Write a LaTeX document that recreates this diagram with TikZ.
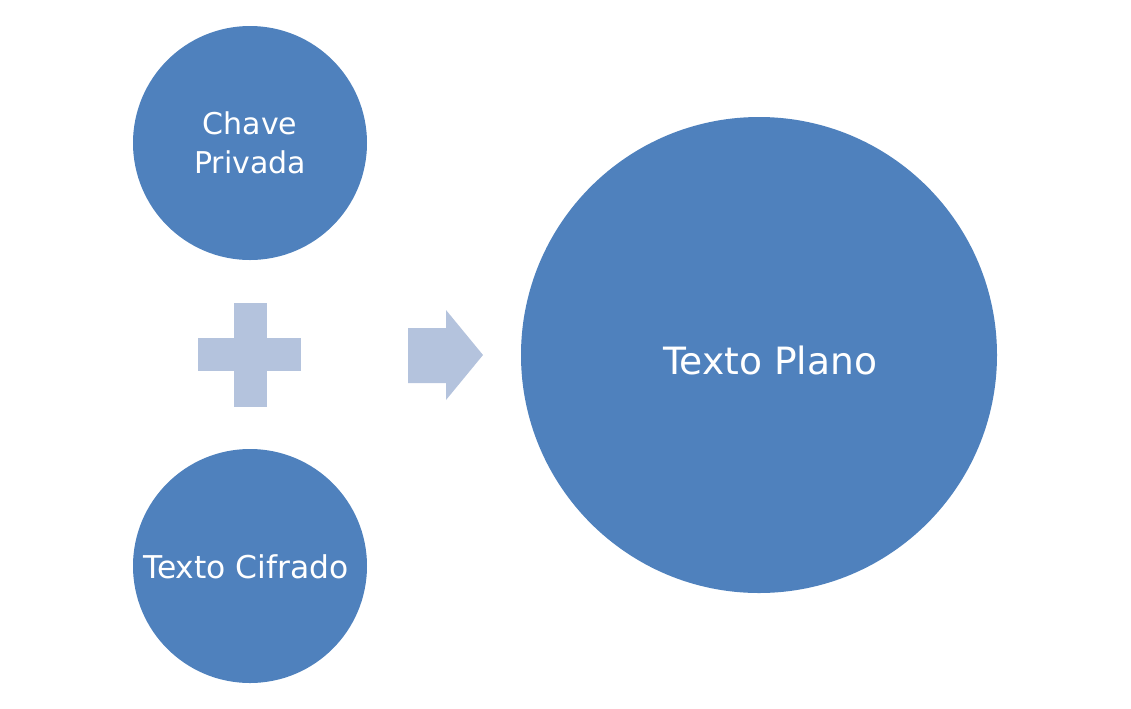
\documentclass[tikz,border=0pt]{standalone}
\usepackage{fontspec}
\setmainfont{DejaVu Sans}
\usetikzlibrary{positioning}
\definecolor{circblue}{HTML}{4F81BD}
\definecolor{lightblue}{HTML}{B4C3DD}
\begin{document}
\begin{tikzpicture}[x=0.5pt, y=-0.5pt,
  bubble/.style={circle, fill=circblue, draw=none, inner sep=0pt},
  caption/.style={text=white, align=center, inner sep=0pt},
  sign/.style={fill=lightblue, draw=none}]
  % Canvas
  \useasboundingbox (0,0) rectangle (1131,708);

  % Inputs
  \node[bubble, minimum size=117pt] (key) at (250,143) {};
  \node[caption, font=\fontsize{15}{19.5}\selectfont] (keytext) at (key.center) {Chave\\Privada};
  \node[bubble, minimum size=117pt] (cipher) at (250,566) {};
  \node[caption, font=\fontsize{15.7}{19}\selectfont] (ciphertext) at ([xshift=-2pt,yshift=-0.5pt]cipher.center) {Texto Cifrado};

  % Output
  \node[bubble, minimum size=238pt] (plain) at (759,355) {};
  \node[caption, font=\fontsize{18.8}{22}\selectfont] (plaintext) at ([xshift=5.5pt,yshift=-2.5pt]plain.center) {Texto Plano};

  % Plus sign
  \fill[sign] (234,303) rectangle (267,407);
  \fill[sign] (198,338) rectangle (301,371);

  % Arrow
  \fill[sign] (408,328) -- (446,328) -- (446,310) -- (483,355) -- (446,400) -- (446,383) -- (408,383) -- cycle;
\end{tikzpicture}
\end{document}
